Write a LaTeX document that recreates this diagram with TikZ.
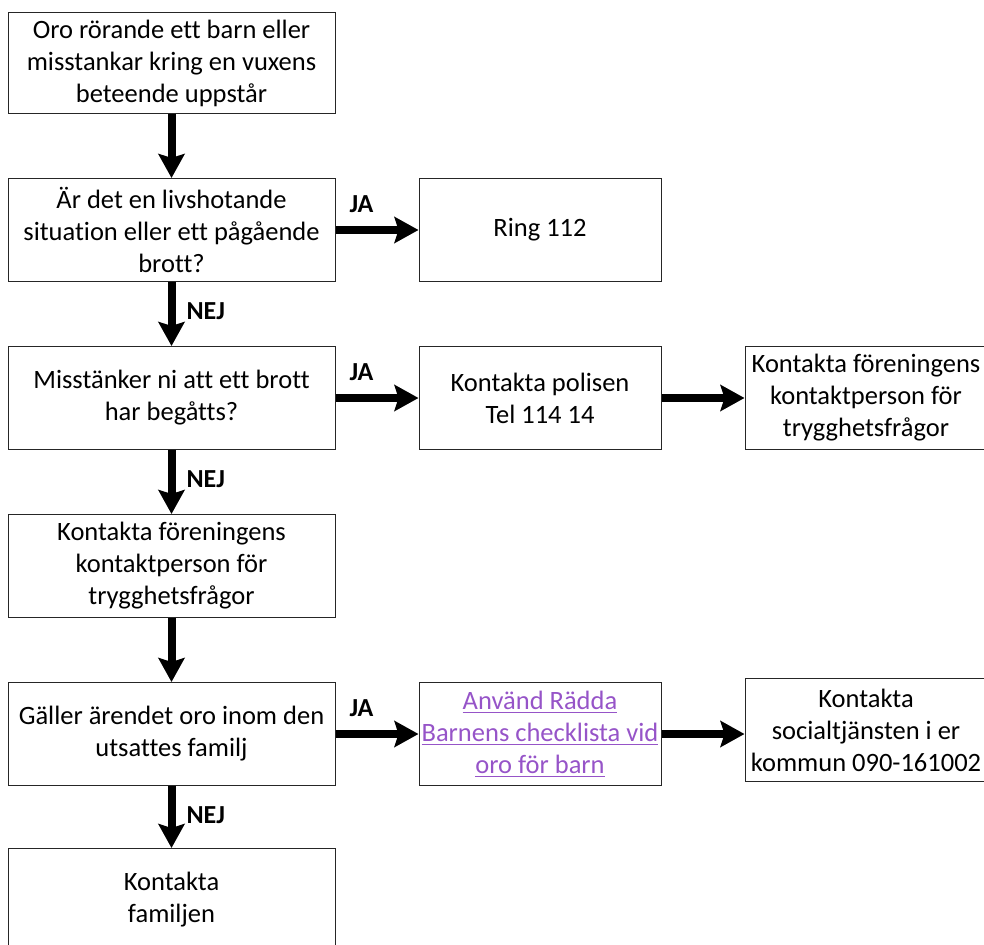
\documentclass[tikz,border=0pt]{standalone}
\usepackage{fontspec}
\setmainfont{Carlito}[Ligatures=NoCommon]
\usetikzlibrary{arrows.meta,positioning}
\definecolor{linkpurple}{RGB}{150,84,200}
\newcommand{\ulink}[1]{\leavevmode\setbox0\hbox{#1}\rlap{\rule[-4pt]{\wd0}{1.2pt}}\box0}

\begin{document}
\begin{tikzpicture}[
  x=1pt,y=1pt,
  node distance=64pt and 83pt,
  box/.style={draw=black!85,line width=1pt,align=center,inner sep=2pt,minimum height=103pt,font=\fontsize{26.5}{32}\selectfont},
  wide/.style={box,minimum width=327pt},
  narrow/.style={box,minimum width=242pt},
  arr/.style={-{Stealth[length=24pt,width=26pt,inset=4pt]},line width=8pt},
  lbl/.style={inner sep=0pt,font=\fontsize{26}{28}\selectfont\bfseries}
]
\useasboundingbox (0,0) rectangle (984,-944);
\node[wide,minimum height=101pt] (start) at (171.5,-63) {Oro rörande ett barn eller\\misstankar kring en vuxens\\beteende uppstår};
\node[wide, below=of start] (livs) {Är det en livshotande\\situation eller ett pågående\\brott?};
\node[narrow, right=of livs] (ring) {Ring 112};
\node[wide, below=of livs] (brott) {Misstänker ni att ett brott\\har begåtts?};
\node[narrow, right=of brott] (polis) {Kontakta polisen\\Tel 114 14};
\node[narrow, right=of polis] (kontakt2) {Kontakta föreningens\\kontaktperson för\\trygghetsfrågor};
\node[wide, below=of brott] (kontakt) {Kontakta föreningens\\kontaktperson för\\trygghetsfrågor};
\node[wide, below=of kontakt] (familj) {Gäller ärendet oro inom den\\utsattes familj};
\node[narrow, right=of familj, text=linkpurple] (radda) {\ulink{Använd Rädda}\\\ulink{Barnens checklista vid}\\\ulink{oro för barn}};
\node[narrow, right=of radda, yshift=4pt] (social) {Kontakta\\socialtjänsten i er\\kommun 090-161002};
\node[wide, below=62pt of familj] (kfamilj) {Kontakta\\familjen};

\draw[arr] (start) -- (livs);
\draw[arr] (livs) -- node[lbl,pos=0,anchor=south west,xshift=10pt,yshift=13pt] (ja1) {JA} (ring);
\draw[arr] (livs) -- node[lbl,pos=0,anchor=north west,xshift=11pt,yshift=-17pt] (nej1) {NEJ} (brott);
\draw[arr] (brott) -- node[lbl,pos=0,anchor=south west,xshift=10pt,yshift=13pt] (ja2) {JA} (polis);
\draw[arr] (polis) -- (kontakt2);
\draw[arr] (brott) -- node[lbl,pos=0,anchor=north west,xshift=11pt,yshift=-17pt] (nej2) {NEJ} (kontakt);
\draw[arr] (kontakt) -- (familj);
\draw[arr] (familj) -- node[lbl,pos=0,anchor=south west,xshift=10pt,yshift=13pt] (ja3) {JA} (radda);
\draw[arr] (radda) -- (social.west |- radda);
\draw[arr] (familj) -- node[lbl,pos=0,anchor=north west,xshift=11pt,yshift=-17pt] (nej3) {NEJ} (kfamilj);
\end{tikzpicture}
\end{document}
